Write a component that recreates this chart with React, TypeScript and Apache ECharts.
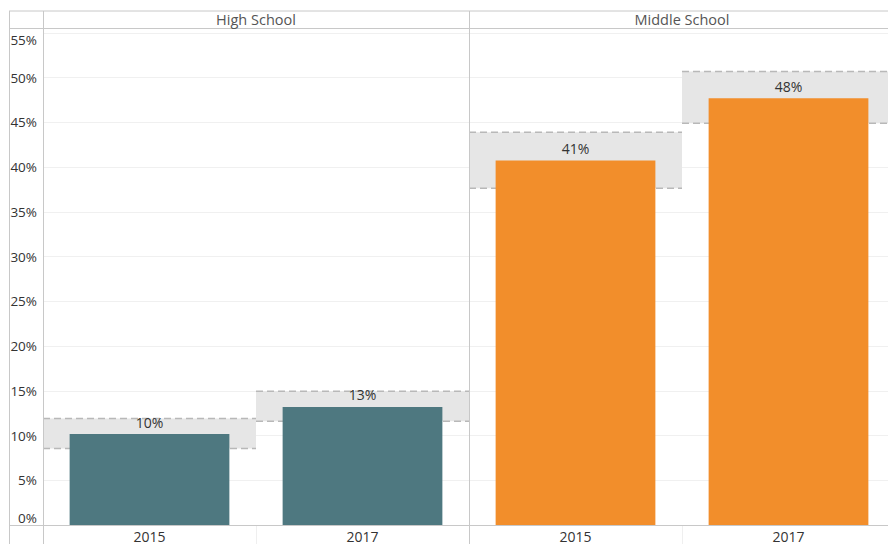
import React, { useEffect, useRef } from "react";
import * as echarts from "echarts";

const panels = ["High School", "Middle School"];
const years = ["2015", "2017"];
const highSchoolValues = [10.16, 13.2];
const middleSchoolValues = [40.74, 47.7];
const highSchoolBandLow = [8.56, 11.6];
const highSchoolBandHigh = [11.9, 14.95];
const middleSchoolBandLow = [37.65, 44.9];
const middleSchoolBandHigh = [43.9, 50.7];
const yTicks = [0, 5, 10, 15, 20, 25, 30, 35, 40, 45, 50, 55];

const FONT = "'Open Sans', 'Noto Sans', sans-serif";
const BORDER = "#c8c8c8";

export default function App() {
  const ref = useRef<HTMLDivElement>(null);

  useEffect(() => {
    document.body.style.margin = "0";
    document.body.style.overflow = "hidden";
    if (!ref.current) return;
    const chart = echarts.init(ref.current, undefined, { renderer: "svg" });

    const gridTop = 33;
    const gridHeight = 492;
    const panelLeft = [43, 469];
    const panelWidth = 426;

    const bandRender = (params: any, api: any) => {
      const i = api.value(0);
      const lo = api.value(1);
      const hi = api.value(2);
      const pTop = api.coord([i, hi]);
      const pBot = api.coord([i, lo]);
      const w = api.size([1, 0])[0];
      const x0 = pTop[0] - w / 2;
      const lineStyle = { stroke: "#b8b8b8", lineWidth: 1.5, lineDash: [7, 4] };
      return {
        type: "group",
        children: [
          {
            type: "rect",
            shape: { x: x0, y: pTop[1], width: w, height: pBot[1] - pTop[1] },
            style: { fill: "#e6e6e6" },
          },
          { type: "line", shape: { x1: x0, y1: pTop[1], x2: x0 + w, y2: pTop[1] }, style: lineStyle },
          { type: "line", shape: { x1: x0, y1: pBot[1], x2: x0 + w, y2: pBot[1] }, style: lineStyle },
        ],
      };
    };

    const values = [highSchoolValues, middleSchoolValues];
    const lows = [highSchoolBandLow, middleSchoolBandLow];
    const highs = [highSchoolBandHigh, middleSchoolBandHigh];
    const colors = ["#4e7880", "#f28e2b"];

    const grids = panelLeft.map((l) => ({ left: l, width: panelWidth, top: gridTop, height: gridHeight }));

    const xAxes = panels.map((_, k) => ({
      type: "category",
      gridIndex: k,
      data: years,
      axisLine: { show: false },
      axisTick: { show: true, length: 19, lineStyle: { color: "#efefef" } },
      axisLabel: { color: "#333", fontFamily: FONT, fontSize: 14, margin: 4 },
    }));

    const yAxes = panels.map((_, k) => ({
      type: "value",
      gridIndex: k,
      min: 0,
      max: 55,
      interval: 5,
      axisLine: { show: false },
      axisTick: { show: false },
      splitLine: { show: true, lineStyle: { color: "#f0f0f0", width: 1 } },
      axisLabel: {
        show: k === 0,
        color: "#333",
        fontFamily: FONT,
        fontSize: 13.5,
        margin: 6,
        formatter: (v: number) => (yTicks.includes(v) ? `${v}%` : ""),
        verticalAlignMinLabel: "bottom",
        verticalAlignMaxLabel: "top",
      },
    }));

    const series: any[] = [];
    panels.forEach((_, k) => {
      series.push({
        type: "custom",
        xAxisIndex: k,
        yAxisIndex: k,
        z: 1,
        renderItem: bandRender,
        encode: { x: 0, y: [1, 2] },
        data: years.map((_, i) => [i, lows[k][i], highs[k][i]]),
      });
      series.push({
        type: "bar",
        xAxisIndex: k,
        yAxisIndex: k,
        z: 3,
        barWidth: "75%",
        itemStyle: { color: colors[k] },
        label: {
          show: true,
          position: "top",
          distance: 5,
          color: "#333",
          fontFamily: FONT,
          fontSize: 14,
          formatter: (p: any) => `${Math.round(p.value)}%`,
        },
        data: values[k],
      });
    });

    const line = (x1: number, y1: number, x2: number, y2: number) => ({
      type: "line",
      shape: { x1, y1, x2, y2 },
      style: { stroke: BORDER, lineWidth: 1 },
      z: 100,
      silent: true,
    });

    const graphic: any[] = [
      line(9, 11, 896, 11),
      line(9, 28.5, 896, 28.5),
      line(9.5, 11, 9.5, 544),
      line(43.5, 11, 43.5, 544),
      line(469.5, 11, 469.5, 544),
      line(9, 525.5, 896, 525.5),
      ...panels.map((name, k) => ({
        type: "text",
        x: panelLeft[k] + panelWidth / 2,
        y: 19.5,
        z: 100,
        style: {
          text: name,
          fill: "#555",
          font: `14.5px ${FONT}`,
          textAlign: "center",
          textVerticalAlign: "middle",
        },
      })),
    ];

    chart.setOption({
      animation: false,
      backgroundColor: "#ffffff",
      grid: grids,
      xAxis: xAxes,
      yAxis: yAxes,
      series,
      graphic,
    });

    return () => chart.dispose();
  }, []);

  return (
    <div style={{ width: 888, height: 544, overflow: "hidden" }}>
      <div ref={ref} style={{ width: 896, height: 544 }} />
    </div>
  );
}
